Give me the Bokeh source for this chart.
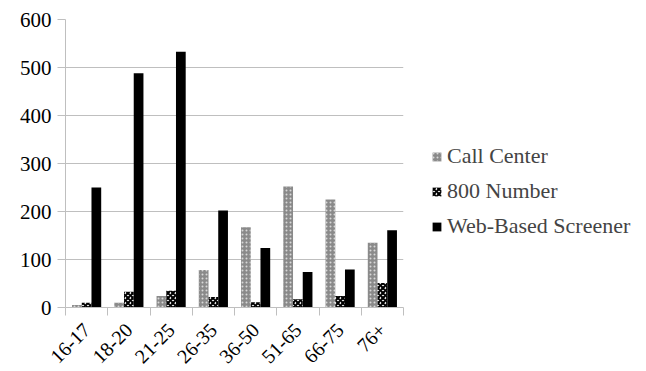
from bokeh.plotting import figure
from bokeh.models import (ColumnDataSource, Range1d, FixedTicker, LinearAxis, Legend, LegendItem)
from bokeh.transform import dodge
from bokeh.embed import file_html
from bokeh.resources import INLINE

categories = ["16-17", "18-20", "21-25", "26-35", "36-50", "51-65", "66-75", "76+"]
call_center = [5, 10, 24, 78, 167, 252, 225, 135]
number_800 = [10, 33, 35, 22, 11, 17, 24, 51]
web_based = [250, 488, 533, 202, 124, 74, 79, 161]
y_ticks = [0, 100, 200, 300, 400, 500, 600]

centers = [i + 0.5 for i in range(len(categories))]
src = ColumnDataSource(dict(x=centers, cc=call_center, n800=number_800, web=web_based))

FONT = "Liberation Serif"
GRID = "#bfbfbf"

p = figure(frame_width=338, frame_height=288, output_backend="svg", toolbar_location=None,
           x_range=Range1d(0, len(categories)), y_range=Range1d(0, 600),
           x_axis_type=None, min_border_left=65, min_border_top=19,
           min_border_bottom=10, min_border_right=225)
p.outline_line_color = None
p.background_fill_color = "white"
p.border_fill_color = "white"

w = 0.23
r1 = p.vbar(x=dodge("x", -w, range=p.x_range), top="cc", width=w, source=src,
            fill_color="#8a8a8a", line_color=None,
            hatch_pattern="dot", hatch_color="#d8d8d8", hatch_scale=4, hatch_weight=1.2)
r2 = p.vbar(x=dodge("x", 0, range=p.x_range), top="n800", width=w, source=src,
            fill_color="white", line_color=None,
            hatch_pattern="diagonal_cross", hatch_color="black", hatch_scale=5, hatch_weight=2.2)
r3 = p.vbar(x=dodge("x", w, range=p.x_range), top="web", width=w, source=src,
            fill_color="black", line_color=None)

# y axis
ya = p.yaxis[0]
ya.ticker = FixedTicker(ticks=y_ticks)
ya.axis_line_color = GRID
ya.major_tick_line_color = GRID
ya.major_tick_in = 0
ya.major_tick_out = 8
ya.minor_tick_line_color = None
ya.major_label_text_font = FONT
ya.major_label_text_font_size = "21px"
ya.major_label_text_color = "black"
ya.major_label_standoff = 6

p.ygrid.ticker = FixedTicker(ticks=y_ticks)
p.ygrid.grid_line_color = GRID
p.xgrid.grid_line_color = None

# x axis: tick marks at category boundaries
xa_ticks = LinearAxis(ticker=FixedTicker(ticks=list(range(len(categories) + 1))),
                      axis_line_color=GRID, major_tick_line_color=GRID,
                      major_tick_in=0, major_tick_out=8, minor_tick_line_color=None,
                      major_label_text_font_size="0px", major_label_standoff=0)
xa_ticks.major_label_overrides = {i: "" for i in range(len(categories) + 1)}
p.add_layout(xa_ticks, "below")

# x axis: labels at category centers
xa_lab = LinearAxis(ticker=FixedTicker(ticks=centers),
                    axis_line_color=None, major_tick_line_color=None,
                    minor_tick_line_color=None, major_label_standoff=5,
                    major_label_orientation=0.785398,
                    major_label_text_font=FONT, major_label_text_font_size="20px",
                    major_label_text_color="black")
xa_lab.major_label_overrides = {c: lab for c, lab in zip(centers, categories)}
p.add_layout(xa_lab, "below")

legend = Legend(items=[LegendItem(label="Call Center", renderers=[r1]),
                       LegendItem(label="800 Number", renderers=[r2]),
                       LegendItem(label="Web-Based Screener", renderers=[r3])],
                location=(28, 68), orientation="vertical",
                label_text_font=FONT, label_text_font_size="22px",
                glyph_width=11, glyph_height=11, label_standoff=5,
                spacing=9, padding=0, margin=0,
                border_line_color=None, background_fill_alpha=0)
p.add_layout(legend, "right")

open("out.html", "w").write(file_html(p, INLINE))
